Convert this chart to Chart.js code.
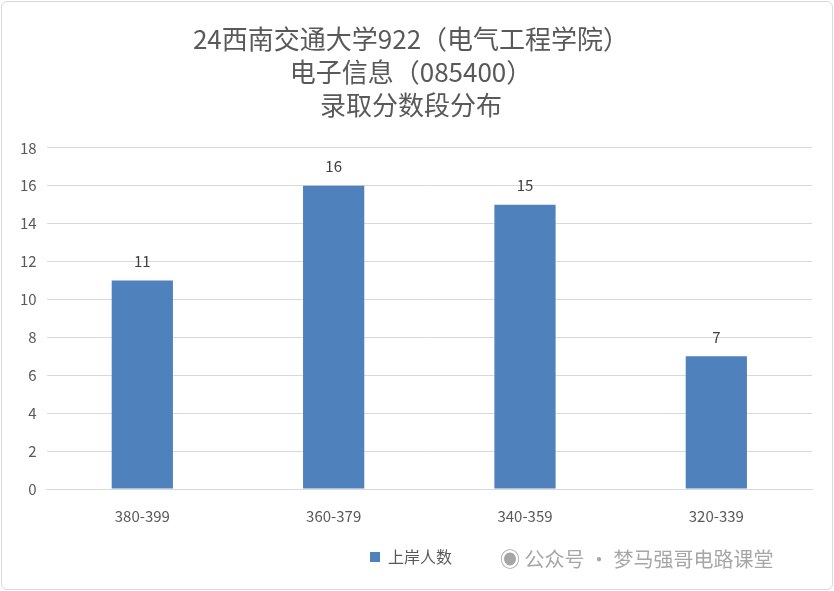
<!DOCTYPE html>
<html><head><meta charset="utf-8">
<script src="https://cdn.jsdelivr.net/npm/chart.js@4"></script>
<style>
body{margin:0;background:#fff;}
#wrap{position:absolute;left:1px;top:1px;width:830px;height:587px;border:1px solid #d9d9d9;border-radius:6px;}
#wm{position:absolute;left:500px;top:544px;font:20px "Noto Sans CJK SC";color:#a6a6a6;}
</style></head>
<body>
<div id="wrap"><canvas id="c" width="830" height="587"></canvas></div>
<div id="wm">◉ 公众号 · 梦马强哥电路课堂</div>
<script>
// data
var categories = ['380-399', '360-379', '340-359', '320-339'];
var counts = [11, 16, 15, 7];
var seriesName = '上岸人数';
var titleLines = ['24西南交通大学922（电气工程学院）', '电子信息（085400）', '录取分数段分布'];

var labelPlugin = {
  id: 'vals',
  afterDatasetsDraw: function(chart) {
    var ctx = chart.ctx;
    var meta = chart.getDatasetMeta(0);
    ctx.save();
    ctx.font = '15px "Noto Sans CJK SC"';
    ctx.fillStyle = '#404040';
    ctx.textAlign = 'center';
    ctx.textBaseline = 'bottom';
    meta.data.forEach(function(bar, i) {
      ctx.fillText(counts[i], bar.x, bar.y - 12);
    });
    ctx.restore();
  }
};

new Chart(document.getElementById('c'), {
  type: 'bar',
  data: {
    labels: categories,
    datasets: [{
      label: seriesName,
      data: counts,
      backgroundColor: '#4f81bd',
      categoryPercentage: 1,
      barPercentage: 0.32
    }]
  },
  options: {
    responsive: false,
    animation: false,
    layout: { padding: { left: 8, right: 20, top: 0, bottom: 14 } },
    plugins: {
      title: {
        display: true,
        text: titleLines,
        color: '#595959',
        font: { size: 26, family: '"Noto Sans CJK SC"', weight: 'normal', lineHeight: 1.28 },
        padding: { top: 20, bottom: 26 }
      },
      legend: {
        position: 'bottom',
        labels: {
          color: '#595959',
          font: { size: 16, family: '"Noto Sans CJK SC"' },
          boxWidth: 10, boxHeight: 10,
          padding: 14
        },
        onClick: null
      },
      tooltip: { enabled: false }
    },
    scales: {
      y: {
        min: 0, max: 18,
        ticks: { stepSize: 2, color: '#595959', font: { size: 15, family: '"Noto Sans CJK SC"' }, padding: 10 },
        grid: { color: '#d9d9d9', drawTicks: false },
        border: { display: false }
      },
      x: {
        ticks: { color: '#595959', font: { size: 15, family: '"Noto Sans CJK SC"' }, padding: 10 },
        grid: { display: false },
        border: { color: '#d9d9d9' }
      }
    }
  },
  plugins: [labelPlugin]
});
</script>
</body></html>
